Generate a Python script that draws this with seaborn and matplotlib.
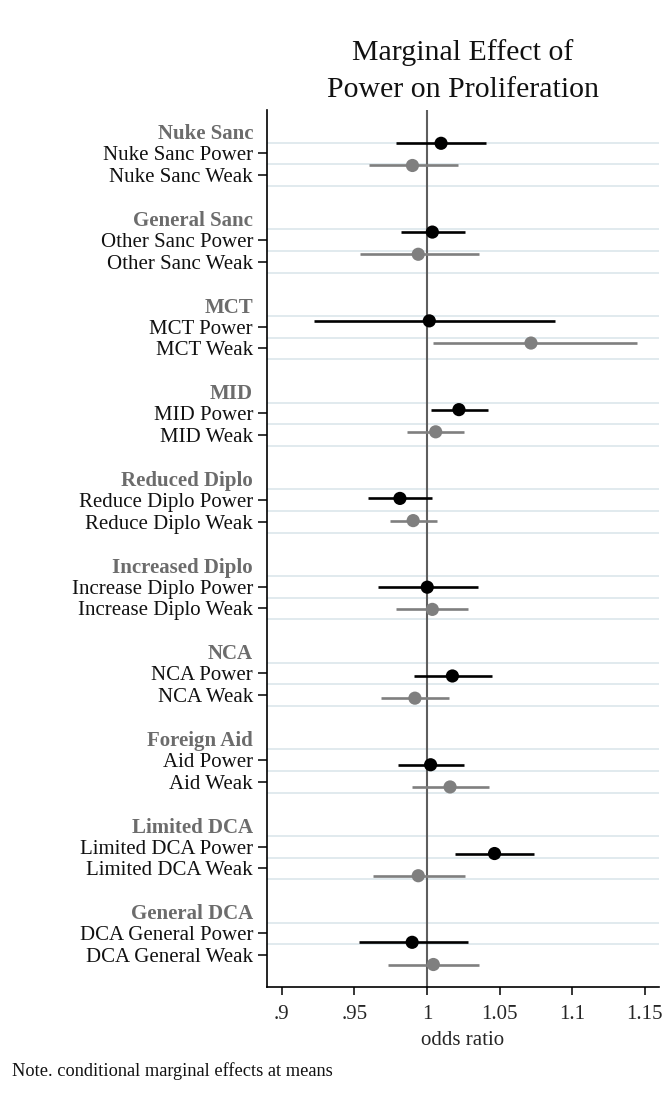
import numpy as np
import pandas as pd
import matplotlib
matplotlib.use("Agg")
import matplotlib.pyplot as plt
import seaborn as sns

# ---------------- data ----------------
groups = ["Nuke Sanc", "General Sanc", "MCT", "MID", "Reduced Diplo",
          "Increased Diplo", "NCA", "Foreign Aid", "Limited DCA", "General DCA"]
power_labels = ["Nuke Sanc Power", "Other Sanc Power", "MCT Power", "MID Power",
                "Reduce Diplo Power", "Increase Diplo Power", "NCA Power",
                "Aid Power", "Limited DCA Power", "DCA General Power"]
weak_labels = ["Nuke Sanc Weak", "Other Sanc Weak", "MCT Weak", "MID Weak",
               "Reduce Diplo Weak", "Increase Diplo Weak", "NCA Weak",
               "Aid Weak", "Limited DCA Weak", "DCA General Weak"]
power_est = [1.0097, 1.0037, 1.0016, 1.0220, 0.9814, 1.0002, 1.0175, 1.0025, 1.0465, 0.9898]
power_lo = [0.9790, 0.9820, 0.9220, 1.0030, 0.9595, 0.9664, 0.9910, 0.9800, 1.0193, 0.9530]
power_hi = [1.0407, 1.0260, 1.0880, 1.0417, 1.0037, 1.0350, 1.0447, 1.0256, 1.0734, 1.0285]
weak_est = [0.9900, 0.9940, 1.0716, 1.0060, 0.9905, 1.0037, 0.9917, 1.0159, 0.9940, 1.0044]
weak_lo = [0.9600, 0.9540, 1.0040, 0.9864, 0.9744, 0.9790, 0.9687, 0.9900, 0.9630, 0.9733]
weak_hi = [1.0216, 1.0360, 1.1443, 1.0256, 1.0071, 1.0285, 1.0152, 1.0424, 1.0260, 1.0361]
x_ticks = [0.9, 0.95, 1.0, 1.05, 1.1, 1.15]
x_ticklabels = [".9", ".95", "1", "1.05", "1.1", "1.15"]

# ---------------- style ----------------
sns.set_style("white")
plt.rcParams["font.family"] = ["Liberation Serif", "DejaVu Serif"]

W, H = 672, 1102
fig = plt.figure(figsize=(W / 100, H / 100), dpi=100)
left_px, right_px, top_px, bot_px = 267, 659, 110, 986.7
ax = fig.add_axes([left_px / W, 1 - bot_px / H, (right_px - left_px) / W, (bot_px - top_px) / H])

n = len(groups)
rows = []
for g in range(n):
    rows.append(dict(row=4 * g + 1, est=power_est[g], lo=power_lo[g], hi=power_hi[g], kind="Power"))
    rows.append(dict(row=4 * g + 2, est=weak_est[g], lo=weak_lo[g], hi=weak_hi[g], kind="Weak"))
df = pd.DataFrame(rows)

# label / grid axis
major_pos, major_lab = [], []
minor_pos, minor_lab = [], []
for g in range(n):
    minor_pos.append(4 * g)
    minor_lab.append(groups[g])
    major_pos += [4 * g + 1, 4 * g + 2]
    major_lab += [power_labels[g], weak_labels[g]]

grid_rows = []
for g in range(n):
    grid_rows += [4 * g + 0.5, 4 * g + 1.5]
    if g < n - 1:
        grid_rows.append(4 * g + 2.5)
for gr in grid_rows:
    ax.axhline(gr, color="#e1eaee", lw=1.4, zorder=0)

ax.axvline(1.0, color="#5e5e5e", lw=1.5, zorder=1)

ax.set_yticks(major_pos)
ax.set_yticklabels(major_lab, fontsize=15, color="#111111")
ax.set_yticks(minor_pos, minor=True)
ax.set_yticklabels(minor_lab, minor=True, fontsize=15, color="#6c6c6c", fontweight="bold")
ax.tick_params(axis="y", which="major", direction="out", length=6.5, width=1.1,
               color="black", pad=3.5, left=True)
ax.tick_params(axis="y", which="minor", length=0, pad=10.0, left=True)
ax.set_ylim(39.46, -1.0)

ax.set_xticks(x_ticks)
ax.set_xticklabels(x_ticklabels, fontsize=15)
ax.tick_params(axis="x", direction="out", length=5.5, width=1.1, color="black", pad=8, bottom=True)

for s in ["top", "right"]:
    ax.spines[s].set_visible(False)
for s in ["left", "bottom"]:
    ax.spines[s].set_color("black")
    ax.spines[s].set_linewidth(1.2)

# points axis
ax_pts = ax.twinx()
palette = {"Power": "black", "Weak": "#7f7f7f"}
for kind, sub in df.groupby("kind"):
    ax_pts.hlines(sub["row"], sub["lo"], sub["hi"], color=palette[kind], lw=1.9, zorder=2)
sns.scatterplot(data=df, x="est", y="row", hue="kind", palette=palette, s=90,
                edgecolor="none", legend=False, ax=ax_pts, zorder=3)
ax_pts.set_ylim(39.0, -0.5)
ax_pts.set_yticks([])
ax_pts.set_ylabel("")
ax_pts.set_xlabel("")
for s in ax_pts.spines.values():
    s.set_visible(False)
ax.set_xlim(0.8899, 1.1597)
ax.set_xlabel("odds ratio", fontsize=15, labelpad=5)

# title
cx = (left_px + right_px) / 2 / W
fig.text(cx, 1 - 60 / H, "Marginal Effect of", ha="center", va="baseline", fontsize=21.5, color="#111111")
fig.text(cx, 1 - 97 / H, "Power on Proliferation", ha="center", va="baseline", fontsize=21.5, color="#111111")

fig.text(12 / W, 1 - 1071 / H, "Note. conditional marginal effects at means",
         ha="left", va="center", fontsize=13.2, color="#111111")

fig.savefig("out.png", dpi=100)
